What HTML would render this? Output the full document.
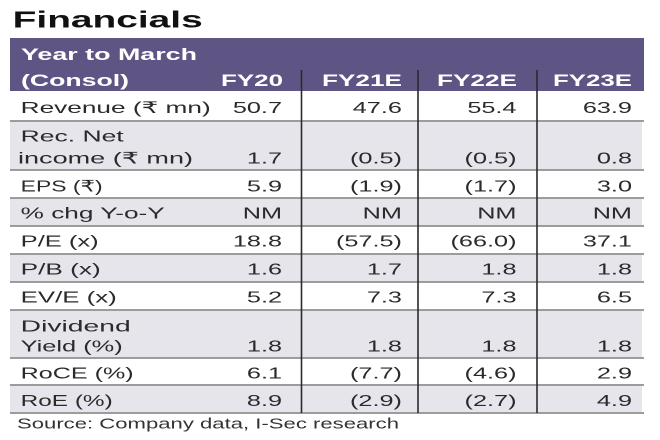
<!DOCTYPE html>
<html><head><meta charset="utf-8"><style>
html,body{margin:0;padding:0;background:#fff;}
svg{display:block;}
text{font-family:"Liberation Sans","DejaVu Sans",sans-serif;}
.l{font-size:16px;fill:#2a2a2a;}
.n{font-size:16px;fill:#2a2a2a;text-anchor:end;}
.h{font-size:17px;fill:#fff;font-weight:bold;}
</style></head><body>
<svg width="660" height="440" viewBox="0 0 660 440" xmlns="http://www.w3.org/2000/svg">
<rect width="660" height="440" fill="#fff"/>
<text x="12.7" y="27.3" font-size="23" font-weight="bold" fill="#111" textLength="190" lengthAdjust="spacingAndGlyphs">Financials</text>
<!-- header -->
<rect x="10" y="38" width="634" height="53" fill="#5f5584"/>
<!-- gray rows -->
<g fill="#e6e5ec">
<rect x="10" y="121" width="632" height="49"/>
<rect x="10" y="198" width="632" height="28"/>
<rect x="10" y="254" width="632" height="28"/>
<rect x="10" y="310" width="632" height="48"/>
<rect x="10" y="385" width="632" height="28"/>
</g>
<!-- separators -->
<g stroke="#9c9c9c" stroke-width="2">
<line x1="10" x2="644" y1="121" y2="121"/>
<line x1="10" x2="644" y1="170" y2="170"/>
<line x1="10" x2="644" y1="198" y2="198"/>
<line x1="10" x2="644" y1="226" y2="226"/>
<line x1="10" x2="644" y1="254" y2="254"/>
<line x1="10" x2="644" y1="282" y2="282"/>
<line x1="10" x2="644" y1="310" y2="310"/>
<line x1="10" x2="644" y1="358" y2="358"/>
<line x1="10" x2="644" y1="385" y2="385"/>
<line x1="10" x2="644" y1="413" y2="413"/>
</g>
<!-- vertical lines -->
<g stroke="#2a2a2a" stroke-width="1.6">
<line x1="301.5" x2="301.5" y1="70" y2="413"/>
<line x1="418" x2="418" y1="70" y2="413"/>
<line x1="537" x2="537" y1="70" y2="413"/>
</g>
<!-- header text -->
<text class="h" x="21" y="60" textLength="176" lengthAdjust="spacingAndGlyphs">Year to March</text>
<text class="h" x="21" y="86" textLength="108" lengthAdjust="spacingAndGlyphs">(Consol)</text>
<text class="h" x="221" y="86" textLength="62" lengthAdjust="spacingAndGlyphs">FY20</text>
<text class="h" x="322" y="86" textLength="80" lengthAdjust="spacingAndGlyphs">FY21E</text>
<text class="h" x="437" y="86" textLength="80" lengthAdjust="spacingAndGlyphs">FY22E</text>
<text class="h" x="553" y="86" textLength="79" lengthAdjust="spacingAndGlyphs">FY23E</text>
<!-- labels -->
<text class="l" x="20.7" y="113" textLength="190" lengthAdjust="spacingAndGlyphs">Revenue (₹ mn)</text>
<text class="l" x="20.7" y="141.7" textLength="103" lengthAdjust="spacingAndGlyphs">Rec. Net</text>
<text class="l" x="18" y="163.3" textLength="175" lengthAdjust="spacingAndGlyphs">income (₹ mn)</text>
<text class="l" x="20.7" y="191.7" textLength="82" lengthAdjust="spacingAndGlyphs">EPS (₹)</text>
<text class="l" x="20.7" y="218.3" textLength="144" lengthAdjust="spacingAndGlyphs">% chg Y-o-Y</text>
<text class="l" x="20.7" y="246.7" textLength="78" lengthAdjust="spacingAndGlyphs">P/E (x)</text>
<text class="l" x="20.7" y="274.3" textLength="80" lengthAdjust="spacingAndGlyphs">P/B (x)</text>
<text class="l" x="20.7" y="302.3" textLength="96" lengthAdjust="spacingAndGlyphs">EV/E (x)</text>
<text class="l" x="20.7" y="331.7" textLength="110" lengthAdjust="spacingAndGlyphs">Dividend</text>
<text class="l" x="20.7" y="351.7" textLength="102" lengthAdjust="spacingAndGlyphs">Yield (%)</text>
<text class="l" x="20.7" y="378.3" textLength="113" lengthAdjust="spacingAndGlyphs">RoCE (%)</text>
<text class="l" x="20.7" y="406" textLength="92" lengthAdjust="spacingAndGlyphs">RoE (%)</text>
<text x="17" y="428.5" font-size="14.5" fill="#333" textLength="382" lengthAdjust="spacingAndGlyphs">Source: Company data, I-Sec research</text>
<!-- numbers -->
<g transform="scale(1.58,1)">
<text class="n" x="178.5" y="113">50.7</text>
<text class="n" x="254.4" y="113">47.6</text>
<text class="n" x="326.9" y="113">55.4</text>
<text class="n" x="400" y="113">63.9</text>

<text class="n" x="178.5" y="163.3">1.7</text>
<text class="n" x="254.4" y="163.3">(0.5)</text>
<text class="n" x="326.9" y="163.3">(0.5)</text>
<text class="n" x="400" y="163.3">0.8</text>

<text class="n" x="178.5" y="191.7">5.9</text>
<text class="n" x="254.4" y="191.7">(1.9)</text>
<text class="n" x="326.9" y="191.7">(1.7)</text>
<text class="n" x="400" y="191.7">3.0</text>

<text class="n" x="178.5" y="218.3">NM</text>
<text class="n" x="254.4" y="218.3">NM</text>
<text class="n" x="326.9" y="218.3">NM</text>
<text class="n" x="400" y="218.3">NM</text>

<text class="n" x="178.5" y="246.7">18.8</text>
<text class="n" x="254.4" y="246.7">(57.5)</text>
<text class="n" x="326.9" y="246.7">(66.0)</text>
<text class="n" x="400" y="246.7">37.1</text>

<text class="n" x="178.5" y="274.3">1.6</text>
<text class="n" x="254.4" y="274.3">1.7</text>
<text class="n" x="326.9" y="274.3">1.8</text>
<text class="n" x="400" y="274.3">1.8</text>

<text class="n" x="178.5" y="302.3">5.2</text>
<text class="n" x="254.4" y="302.3">7.3</text>
<text class="n" x="326.9" y="302.3">7.3</text>
<text class="n" x="400" y="302.3">6.5</text>

<text class="n" x="178.5" y="351.7">1.8</text>
<text class="n" x="254.4" y="351.7">1.8</text>
<text class="n" x="326.9" y="351.7">1.8</text>
<text class="n" x="400" y="351.7">1.8</text>

<text class="n" x="178.5" y="378.3">6.1</text>
<text class="n" x="254.4" y="378.3">(7.7)</text>
<text class="n" x="326.9" y="378.3">(4.6)</text>
<text class="n" x="400" y="378.3">2.9</text>

<text class="n" x="178.5" y="406">8.9</text>
<text class="n" x="254.4" y="406">(2.9)</text>
<text class="n" x="326.9" y="406">(2.7)</text>
<text class="n" x="400" y="406">4.9</text>
</g>
</svg>
</body></html>
